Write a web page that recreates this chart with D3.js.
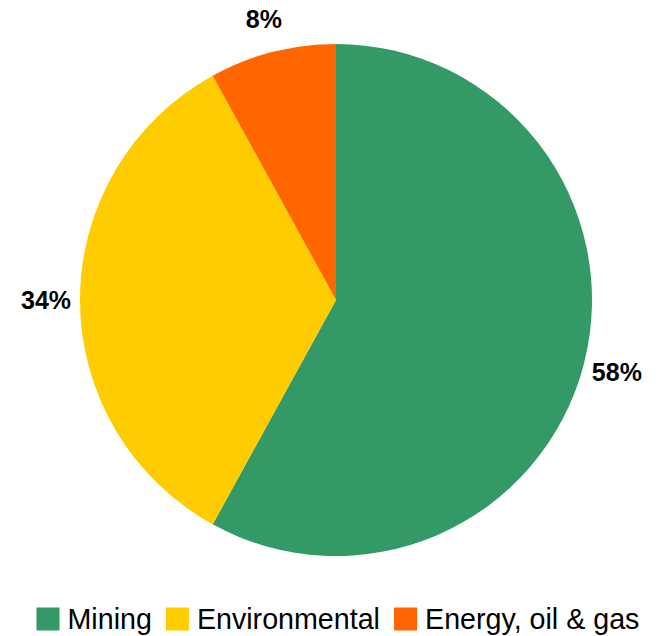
<!DOCTYPE html>
<html>
<head>
<meta charset="utf-8">
<script src="https://cdn.jsdelivr.net/npm/d3@7/dist/d3.min.js"></script>
<style>
  html, body { margin: 0; padding: 0; background: #ffffff; }
  svg { display: block; }
</style>
</head>
<body>
<svg id="chart" width="662" height="636"></svg>
<script>
// Share of projects by sector
const categories = ["Mining", "Environmental", "Energy, oil & gas"];
const shares = [58, 34, 8];
const pctLabels = ["58%", "34%", "8%"];
const colors = ["#339966", "#FFCC00", "#FF6600"];

const W = 662, H = 636;
const cx = 336, cy = 300, R = 256, labelR = 290;

const svg = d3.select("#chart");

const pie = d3.pie().sort(null).value(d => d.value);
const data = categories.map((c, i) => ({ name: c, value: shares[i], label: pctLabels[i], color: colors[i] }));
const arcs = pie(data);

const arc = d3.arc().innerRadius(0).outerRadius(R);
const labelArc = d3.arc().innerRadius(labelR).outerRadius(labelR);

const g = svg.append("g").attr("transform", `translate(${cx},${cy})`);

g.selectAll("path.slice")
  .data(arcs)
  .join("path")
  .attr("class", "slice")
  .attr("d", arc)
  .attr("fill", d => d.data.color);

g.selectAll("text.pct")
  .data(arcs)
  .join("text")
  .attr("class", "pct")
  .attr("transform", d => `translate(${labelArc.centroid(d)})`)
  .attr("text-anchor", "middle")
  .attr("dominant-baseline", "central")
  .attr("font-family", "'Liberation Sans', Arial, sans-serif")
  .attr("font-weight", "bold")
  .attr("font-size", 25)
  .attr("fill", "#000")
  .text(d => d.data.label);

// Legend row, centred under the pie, in a condensed face
const legend = svg.append("g");
const sw = 23, gapAfterSwatch = 8, gapBetween = 14, legendWidth = 603;
const items = legend.selectAll("g.item")
  .data(data)
  .join("g")
  .attr("class", "item");

items.append("rect")
  .attr("width", sw).attr("height", sw)
  .attr("y", -sw / 2)
  .attr("fill", d => d.color);

const labels = items.append("text")
  .attr("dominant-baseline", "central")
  .attr("font-family", "'Liberation Sans', Arial, sans-serif")
  .attr("font-size", 29)
  .attr("fill", "#000")
  .text(d => d.name);

const widths = labels.nodes().map(n => n.getComputedTextLength());
const fixed = data.length * (sw + gapAfterSwatch) + (data.length - 1) * gapBetween;
const squeeze = (legendWidth - fixed) / d3.sum(widths);

let x = 0;
items.each(function (d, i) {
  d3.select(this).attr("transform", `translate(${x},0)`);
  d3.select(this).select("text")
    .attr("transform", `translate(${sw + gapAfterSwatch},0) scale(${squeeze},1)`);
  x += sw + gapAfterSwatch + widths[i] * squeeze + gapBetween;
});
legend.attr("transform", `translate(${(W - legendWidth) / 2 + 7},619)`);
</script>
</body>
</html>
